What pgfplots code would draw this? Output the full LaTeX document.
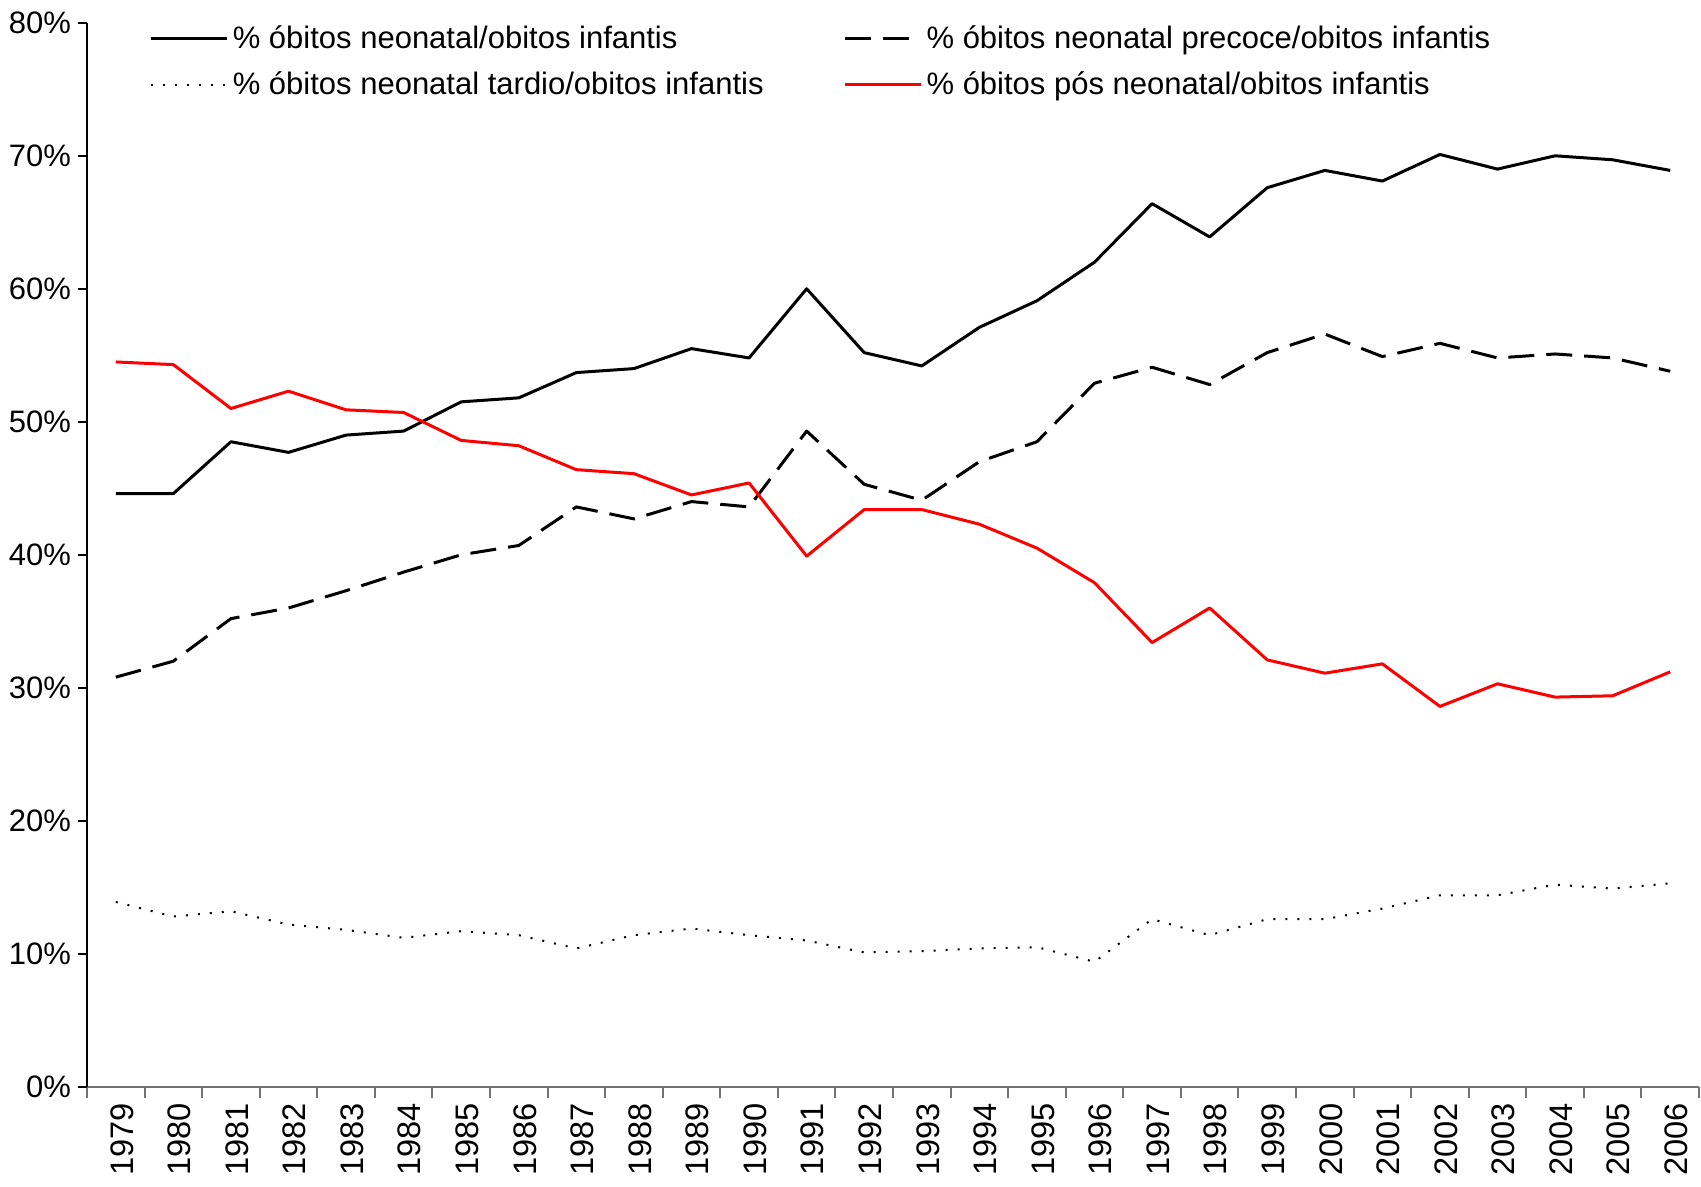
\documentclass[border=0pt]{standalone}
\usepackage{pgfplots}
\usepackage{pgfplotstable}
\pgfplotsset{compat=1.18}
\usepackage{fontspec}
\setmainfont{Liberation Sans}
\pgfplotstableread{
x neo pre tar pos
0  44.6 30.8 13.9 54.5
1  44.6 32.0 12.8 54.3
2  48.5 35.2 13.2 51.0
3  47.7 36.0 12.2 52.3
4  49.0 37.3 11.8 50.9
5  49.3 38.7 11.2 50.7
6  51.5 40.0 11.7 48.6
7  51.8 40.7 11.4 48.2
8  53.7 43.6 10.4 46.4
9  54.0 42.7 11.4 46.1
10 55.5 44.0 11.9 44.5
11 54.8 43.6 11.4 45.4
12 60.0 49.3 11.0 39.9
13 55.2 45.3 10.1 43.4
14 54.2 44.1 10.2 43.4
15 57.1 47.0 10.4 42.3
16 59.1 48.5 10.5 40.5
17 62.0 52.9 9.4  37.9
18 66.4 54.1 12.6 33.4
19 63.9 52.8 11.4 36.0
20 67.6 55.2 12.6 32.1
21 68.9 56.6 12.6 31.1
22 68.1 54.9 13.4 31.8
23 70.1 55.9 14.4 28.6
24 69.0 54.8 14.4 30.3
25 70.0 55.1 15.2 29.3
26 69.7 54.8 14.9 29.4
27 68.9 53.8 15.3 31.2
}\data
\begin{document}
\begin{tikzpicture}
\begin{axis}[
  scale only axis, width=806pt, height=532pt,
  xmin=-0.5, xmax=27.5, ymin=0, ymax=80,
  axis x line*=bottom, axis y line*=left,
  x axis line style={draw=black!55, line width=1pt, -},
  y axis line style={draw=black, line width=1pt, -},
  tick align=outside,
  major tick length=4.5pt,
  minor tick length=5.5pt,
  xtick={0,...,27},
  xticklabels={1979,1980,1981,1982,1983,1984,1985,1986,1987,1988,1989,1990,1991,1992,1993,1994,1995,1996,1997,1998,1999,2000,2001,2002,2003,2004,2005,2006},
  minor xtick={-0.5,0.5,...,27.5},
  major x tick style={draw=none},
  minor x tick style={draw=black!55, line width=1pt},
  ytick={0,10,...,80},
  yticklabels={0\%,10\%,20\%,30\%,40\%,50\%,60\%,70\%,80\%},
  y tick style={draw=black, line width=1pt},
  yticklabel style={font=\fontsize{15.5}{18}\selectfont},
  xticklabel style={rotate=90, anchor=east, yshift=-3pt, font=\fontsize{16.3}{19}\selectfont},
  /pgf/number format/assume math mode=true,
  legend columns=2,
  legend cell align=left,
  legend style={draw=none, fill=none, at={(axis description cs:0.035,1)}, anchor=north west, yshift=3pt,
    font=\fontsize{15.5}{18}\selectfont, row sep=6.5pt,
    /tikz/every even column/.append style={column sep=38pt}},
  legend image code/.code={\draw[#1] (0pt,0pt) -- (38pt,0pt);},
]
\addplot[black, line width=1.5pt, line join=round] table[x=x, y=neo] {\data};
\addlegendentry{\% óbitos neonatal/obitos infantis}
\addplot[black, line width=1.5pt, line join=round, dash pattern=on 13pt off 6pt] table[x=x, y=pre] {\data};
\addlegendentry{\% óbitos neonatal precoce/obitos infantis}
\addplot[black, line width=1pt, dash pattern=on 1pt off 5pt] table[x=x, y=tar] {\data};
\addlegendentry{\% óbitos neonatal tardio/obitos infantis}
\addplot[red, line width=1.5pt, line join=round] table[x=x, y=pos] {\data};
\addlegendentry{\% óbitos pós neonatal/obitos infantis}
\end{axis}
\pgfresetboundingbox
\useasboundingbox ([xshift=-43.5pt,yshift=-50pt]current axis.south west) rectangle ([xshift=1pt,yshift=11.4pt]current axis.north east);
\end{tikzpicture}
\end{document}
